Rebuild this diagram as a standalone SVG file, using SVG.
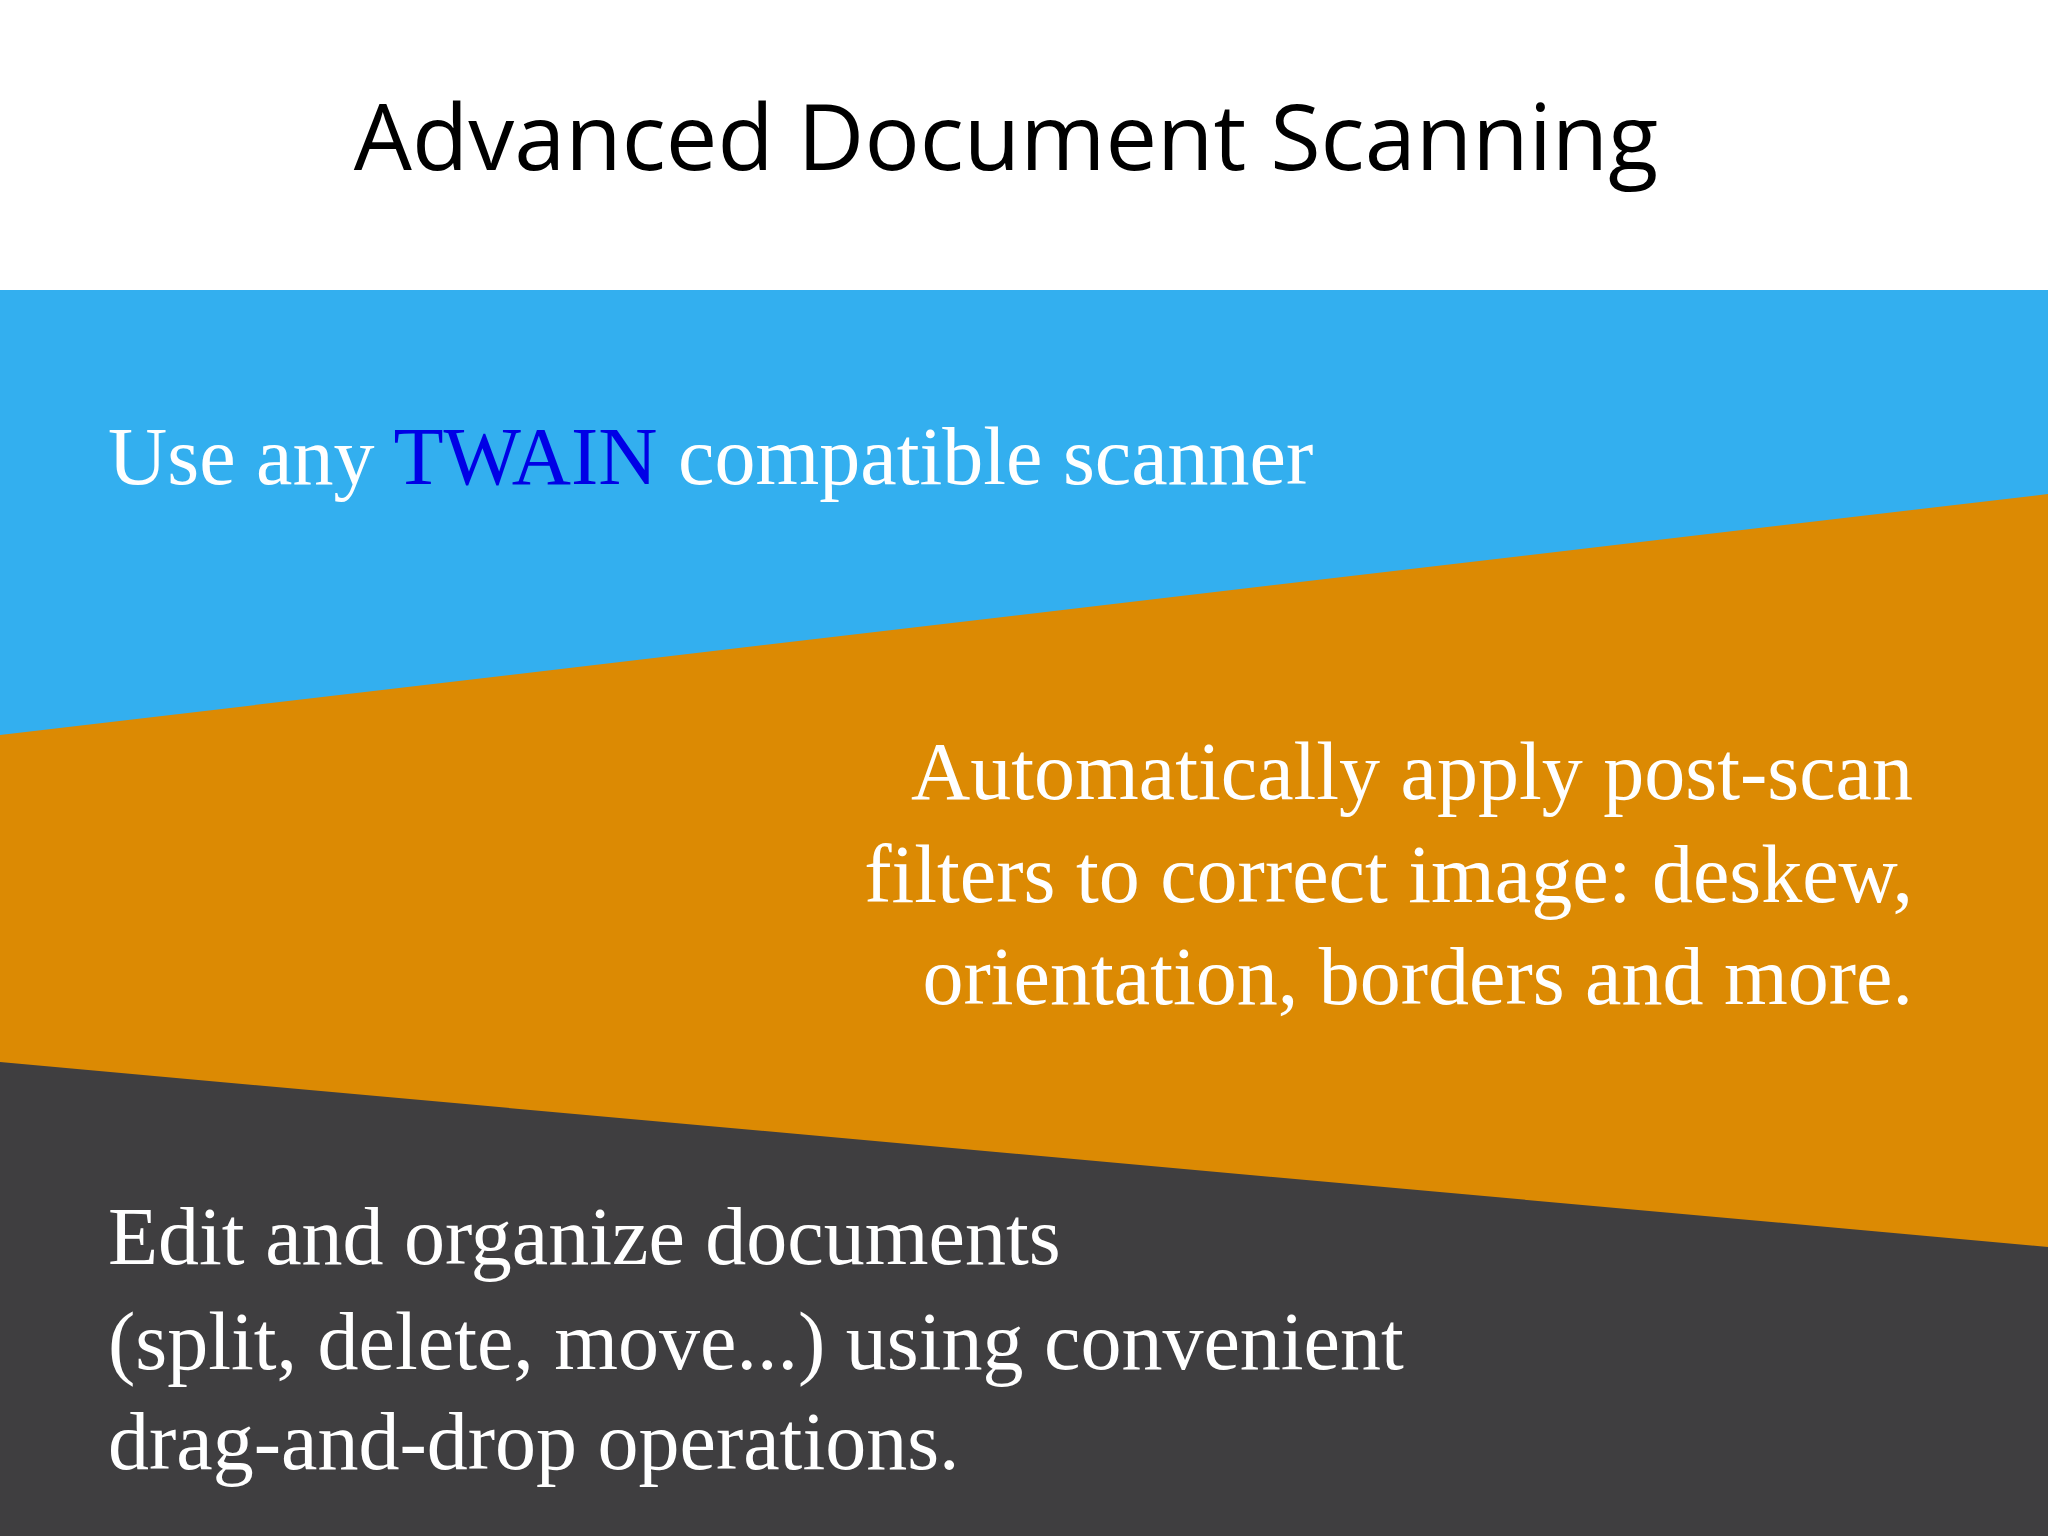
<svg xmlns="http://www.w3.org/2000/svg" width="2048" height="1536" viewBox="0 0 2048 1536">
<style>
.t{font-family:"Liberation Serif","DejaVu Serif",serif;font-size:82px;fill:#fff}
</style>
<rect width="2048" height="1536" fill="#fff"/>
<g id="bands">
<rect y="290" width="2048" height="1246" fill="#33AFEF"/>
<polygon points="0,735 2048,494 2048,1536 0,1536" fill="#DC8A03"/>
<polygon points="0,1062 2048,1247 2048,1536 0,1536" fill="#3F3E40"/>
</g>
<g id="title"><text x="1006" y="170" text-anchor="middle" font-family="Open Sans, Lato, sans-serif" font-size="92" fill="#000">Advanced Document Scanning</text></g>
<g id="n1"><text class="t" x="108" y="484">Use any <tspan fill="#0000E6">TWAIN</tspan> compatible scanner</text></g>
<g id="n2" text-anchor="end">
<text class="t" x="1913" y="799">Automatically apply post-scan</text>
<text class="t" x="1913" y="902">filters to correct image:  deskew,</text>
<text class="t" x="1913" y="1004">orientation, borders and more.</text>
</g>
<g id="n3">
<text class="t" x="108" y="1264">Edit and organize documents</text>
<text class="t" x="108" y="1369">(split, delete, move...) using  convenient</text>
<text class="t" x="108" y="1469">drag-and-drop operations.</text>
</g>
</svg>
